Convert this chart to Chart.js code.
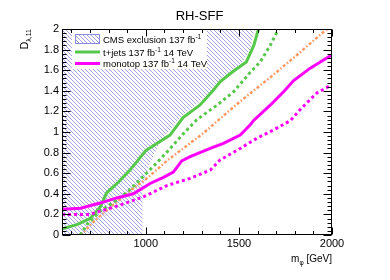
<!DOCTYPE html>
<html>
<head>
<meta charset="utf-8">
<script src="https://cdn.jsdelivr.net/npm/chart.js@4.4.1/dist/chart.umd.min.js"></script>
<style>
  html, body { margin: 0; padding: 0; background: #fff; }
</style>
</head>
<body>
<canvas id="c" width="390" height="280"></canvas>
<script>
// values (m_phi in GeV, D_lambda,11)
const cmsMass = [550, 983, 983, 1023, 1077, 1120, 1190, 1270, 1340, 1390, 1450, 1520, 1560, 1585];
const cmsD    = [0,   0,   0.47, 0.70, 0.90, 1.00, 1.15, 1.27, 1.38, 1.49, 1.58, 1.68, 1.80, 2.00];

const tjetsMass = [550, 630, 700, 755, 790, 845, 915, 1000, 1130, 1200, 1290, 1360, 1400, 1470, 1540, 1580, 1605];
const tjetsD    = [0.06, 0.10, 0.16, 0.27, 0.41, 0.50, 0.63, 0.82, 0.97, 1.14, 1.26, 1.40, 1.49, 1.59, 1.68, 1.84, 2.00];

const tjets14Mass = [647, 683, 754, 844, 915, 987, 1059, 1131, 1200, 1274, 1382, 1471, 1561, 1614, 1668, 1713];
const tjets14D    = [0, 0.10, 0.23, 0.34, 0.44, 0.57, 0.70, 0.84, 0.98, 1.12, 1.26, 1.39, 1.58, 1.68, 1.84, 2.00];

const orangeMass = [650, 720, 810, 915, 1000, 1113, 1310, 1489, 1668, 1800, 1973];
const orangeD    = [0, 0.13, 0.27, 0.43, 0.54, 0.72, 0.99, 1.27, 1.53, 1.73, 2.00];

const monoMass = [550, 650, 754, 844, 933, 1023, 1095, 1148, 1193, 1238, 1346, 1417, 1507, 1561, 1578, 1668, 1740, 1794, 1883, 2000];
const monoD    = [0.25, 0.26, 0.31, 0.36, 0.40, 0.50, 0.56, 0.61, 0.72, 0.76, 0.84, 0.89, 0.97, 1.07, 1.11, 1.26, 1.39, 1.50, 1.62, 1.75];

const mono14Mass = [550, 700, 772, 862, 987, 1113, 1238, 1346, 1400, 1507, 1597, 1686, 1776, 1830, 1919, 2000];
const mono14D    = [0.20, 0.20, 0.24, 0.29, 0.37, 0.48, 0.55, 0.63, 0.73, 0.84, 0.94, 1.02, 1.11, 1.22, 1.38, 1.46];

const xTickValues = [600, 700, 800, 900, 1000, 1100, 1200, 1300, 1400, 1500, 1600, 1700, 1800, 1900, 2000];
const xLabelled = [1000, 1500, 2000];
const yMinorStep = 0.04;

const GREEN = '#55c84a';
const MAGENTA = '#ff00ff';
const ORANGE = '#ff9a66';
const HATCH = '#8a8ae0';
const FONT = "'Liberation Sans', Arial, Helvetica, sans-serif";

function pts(xs, ys) { return xs.map((x, i) => ({ x: x, y: ys[i] })); }

function hatchPattern() {
  const c = document.createElement('canvas');
  c.width = 4; c.height = 4;
  const g = c.getContext('2d');
  g.strokeStyle = HATCH;
  g.lineWidth = 0.8;
  g.beginPath();
  g.moveTo(-1, -1); g.lineTo(5, 5);
  g.moveTo(-1, 3); g.lineTo(1, 5);
  g.moveTo(3, -1); g.lineTo(5, 1);
  g.stroke();
  return g.createPattern(c, 'repeat');
}
const hatch = hatchPattern();

function textWithScript(ctx, parts, x, y) {
  // parts: [text, size, dy]
  let cx = x;
  parts.forEach(p => {
    ctx.font = p[1] + 'px ' + FONT;
    ctx.fillText(p[0], cx, y + p[2]);
    cx += ctx.measureText(p[0]).width;
  });
  return cx;
}
function partsWidth(ctx, parts) {
  let w = 0;
  parts.forEach(p => { ctx.font = p[1] + 'px ' + FONT; w += ctx.measureText(p[0]).width; });
  return w;
}

const decorations = {
  id: 'decorations',
  afterDatasetsDraw(chart) {
    const { ctx, chartArea: a, scales: { x, y } } = chart;
    ctx.save();
    ctx.fillStyle = '#000';
    ctx.textBaseline = 'alphabetic';

    // legend
    ctx.fillStyle = '#fff';
    ctx.fillRect(72, a.top + 1, 135, 39);
    ctx.fillStyle = hatch;
    ctx.fillRect(75, 34, 25, 10);
    ctx.strokeStyle = HATCH;
    ctx.lineWidth = 1;
    ctx.strokeRect(75.5, 34.5, 24, 9);
    ctx.lineWidth = 3;
    ctx.strokeStyle = GREEN;
    ctx.beginPath(); ctx.moveTo(75, 52); ctx.lineTo(100, 52); ctx.stroke();
    ctx.strokeStyle = MAGENTA;
    ctx.beginPath(); ctx.moveTo(75, 63.5); ctx.lineTo(100, 63.5); ctx.stroke();
    ctx.fillStyle = '#000';
    ctx.textAlign = 'left';
    textWithScript(ctx, [['CMS exclusion 137 fb', 9.5, 0], ['-1', 6.5, -4]], 103, 42.5);
    textWithScript(ctx, [['t+jets 137 fb', 9.5, 0], ['-1', 6.5, -4], [' 14 TeV', 9.5, 0]], 103, 55.5);
    textWithScript(ctx, [['monotop 137 fb', 9.5, 0], ['-1', 6.5, -4], [' 14 TeV', 9.5, 0]], 103, 67);

    // frame
    ctx.strokeStyle = '#000';
    ctx.lineWidth = 1;
    const L = Math.round(a.left) + 0.5, R = Math.round(a.right) - 0.5;
    const T = Math.round(a.top) + 0.5, B = Math.round(a.bottom) - 0.5;
    ctx.strokeRect(L, T, R - L, B - T);

    // ticks pointing inwards on all four sides
    ctx.beginPath();
    xTickValues.forEach(v => {
      const px = Math.round(x.getPixelForValue(v)) + 0.5;
      const len = (v % 500 === 0) ? 7 : 3.5;
      ctx.moveTo(px, B); ctx.lineTo(px, B - len);
      ctx.moveTo(px, T); ctx.lineTo(px, T + len);
    });
    for (let i = 0; i <= 50; i++) {
      const v = i * yMinorStep;
      const py = Math.round(y.getPixelForValue(v)) + 0.5;
      const len = (i % 5 === 0) ? 8 : 4;
      ctx.moveTo(L, py); ctx.lineTo(L + len, py);
      ctx.moveTo(R, py); ctx.lineTo(R - len, py);
    }
    ctx.stroke();

    // title
    ctx.fillStyle = '#000';
    ctx.textAlign = 'center';
    ctx.font = '13px ' + FONT;
    ctx.fillText('RH-SFF', 199.5, 20);

    // x-axis title, right aligned
    ctx.textAlign = 'left';
    const xt = [['m', 10, 0], ['\u03c6', 6.5, 2.5], [' [GeV]', 10, 0]];
    textWithScript(ctx, xt, a.right - partsWidth(ctx, xt), 262);

    // y-axis title, rotated, top aligned
    const yt = [['D', 10.5, 0], ['\u03bb,11', 7, 3]];
    ctx.translate(28, a.top);
    ctx.rotate(-Math.PI / 2);
    textWithScript(ctx, yt, -partsWidth(ctx, yt), 0);
    ctx.restore();
  }
};

new Chart(document.getElementById('c'), {
  type: 'line',
  data: {
    datasets: [
      { label: 'CMS exclusion 137 fb-1', data: pts(cmsMass, cmsD), borderWidth: 0,
        borderColor: 'rgba(0,0,0,0)', backgroundColor: hatch, fill: 'end', order: 6 },
      { label: 't+jets 137 fb-1 14 TeV (dotted)', data: pts(tjets14Mass, tjets14D), borderColor: GREEN,
        borderWidth: 3, borderDash: [3, 3], fill: false, order: 4 },
      { label: 'dash-dot', data: pts(orangeMass, orangeD), borderColor: ORANGE,
        borderWidth: 2.5, borderDash: [3, 2, 1.5, 2], fill: false, order: 5 },
      { label: 't+jets 137 fb-1 14 TeV', data: pts(tjetsMass, tjetsD), borderColor: GREEN,
        borderWidth: 3, fill: false, order: 3 },
      { label: 'monotop 137 fb-1 14 TeV (dotted)', data: pts(mono14Mass, mono14D), borderColor: MAGENTA,
        borderWidth: 3, borderDash: [3, 3], fill: false, order: 2 },
      { label: 'monotop 137 fb-1 14 TeV', data: pts(monoMass, monoD), borderColor: MAGENTA,
        borderWidth: 3, fill: false, order: 1 }
    ]
  },
  options: {
    responsive: false,
    animation: false,
    devicePixelRatio: 1,
    parsing: false,
    elements: { point: { radius: 0, hoverRadius: 0 }, line: { tension: 0 } },
    layout: { padding: { top: 29, right: 58, left: 0, bottom: 0 } },
    plugins: { legend: { display: false }, tooltip: { enabled: false }, title: { display: false } },
    scales: {
      x: {
        type: 'linear', min: 550, max: 2000,
        afterBuildTicks: s => { s.ticks = xTickValues.map(v => ({ value: v })); },
        afterFit: s => { s.height = 45; },
        grid: { display: false, drawTicks: false },
        border: { display: false },
        ticks: {
          autoSkip: false, maxRotation: 0, padding: 2, color: '#000',
          font: { family: FONT, size: 11 },
          callback: v => xLabelled.includes(v) ? String(v) : ''
        }
      },
      y: {
        type: 'linear', min: 0, max: 2,
        afterFit: s => { s.width = 62; },
        grid: { display: false, drawTicks: false },
        border: { display: false },
        ticks: {
          stepSize: 0.2, padding: 3, color: '#000',
          font: { family: FONT, size: 11 },
          callback: v => String(Math.round(v * 10) / 10)
        }
      }
    }
  },
  plugins: [decorations]
});
</script>
</body>
</html>
